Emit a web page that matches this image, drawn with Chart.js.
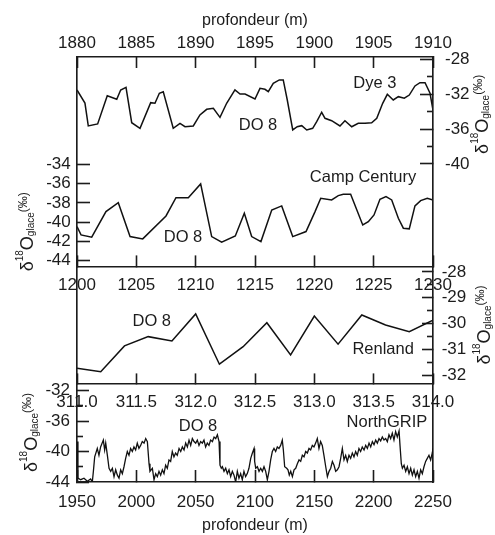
<!DOCTYPE html>
<html>
<head>
<meta charset="utf-8">
<script src="https://cdn.jsdelivr.net/npm/chart.js@4.4.1/dist/chart.umd.min.js"></script>
<style>
html, body { margin: 0; padding: 0; background: #ffffff; }
#wrap { position: relative; width: 495px; height: 535px; }
#wrap canvas { position: absolute; left: 0; top: 0; }
</style>
</head>
<body>
<div id="wrap">
  <canvas id="cDye3" width="495" height="535"></canvas>
  <canvas id="cCamp" width="495" height="535"></canvas>
  <canvas id="cRenland" width="495" height="535"></canvas>
  <canvas id="cNgrip" width="495" height="535"></canvas>
</div>
<script>
// ---------------- DATA ----------------
const dye3Depth = [1880.0,1880.67,1880.95,1881.74,1882.55,1883.35,1883.68,1884.13,1884.61,1885.31,1886.21,1886.57,1886.94,1887.27,1888.11,1888.68,1889.1,1889.8,1890.36,1890.93,1891.49,1892.05,1892.61,1893.31,1893.74,1894.16,1895.0,1895.42,1895.84,1896.12,1896.54,1897.05,1897.38,1897.72,1898.18,1898.56,1898.94,1899.36,1899.86,1900.2,1900.62,1900.9,1901.46,1902.16,1902.58,1903.15,1903.7,1904.27,1904.83,1905.26,1905.76,1906.15,1906.65,1907.08,1907.58,1908.0,1908.48,1908.9,1909.33,1909.75,1910.0];
const dye3Values = [-31.5,-33.0,-35.63,-35.4,-32.16,-32.57,-31.5,-31.19,-35.26,-35.9,-32.96,-33.03,-31.88,-31.7,-35.9,-35.33,-35.72,-35.63,-34.37,-33.72,-33.6,-34.64,-33.03,-31.5,-31.96,-31.96,-32.54,-31.31,-31.42,-31.7,-30.73,-30.35,-30.35,-32.65,-36.09,-35.72,-35.6,-36.09,-35.9,-35.14,-34.06,-34.75,-35.03,-35.63,-35.03,-35.72,-35.33,-35.33,-35.26,-34.75,-33.03,-32.0,-32.65,-32.27,-32.45,-32.08,-31.04,-30.66,-30.66,-31.88,-33.8];
const campDepth = [1200.0,1200.34,1201.24,1202.44,1203.48,1204.47,1205.54,1207.5,1208.34,1209.38,1210.42,1211.35,1212.19,1213.34,1214.1,1214.72,1215.5,1216.41,1217.25,1218.18,1219.3,1220.06,1220.54,1221.46,1222.02,1222.44,1223.06,1224.08,1224.55,1225.03,1225.53,1226.04,1226.52,1227.08,1227.5,1228.0,1228.48,1228.96,1229.52,1230.0];
const campValues = [-40.47,-41.33,-41.56,-38.91,-37.98,-41.5,-41.74,-39.36,-37.46,-37.46,-36.04,-41.5,-42.08,-41.43,-39.08,-41.5,-42.02,-38.74,-38.32,-41.5,-40.98,-38.91,-37.52,-37.7,-37.25,-37.11,-37.11,-40.29,-39.95,-39.25,-37.63,-37.36,-37.7,-39.6,-40.63,-40.7,-38.32,-37.77,-37.52,-37.7];
const renlandDepth = [311.0,311.2,311.4,311.6,311.8,312.0,312.2,312.4,312.6,312.8,313.0,313.2,313.4,313.6,313.8,314.0];
const renlandValues = [-31.74,-31.87,-30.87,-30.51,-30.68,-29.63,-31.58,-30.9,-29.97,-31.22,-29.71,-30.8,-29.67,-30.06,-30.32,-29.87];
const ngripDepth = [1950.3,1950.8,1953.1,1955.9,1958.7,1961.5,1962.9,1963.8,1964.9,1967.1,1968.5,1969.9,1972.2,1973.3,1974.2,1975.6,1977.0,1978.4,1979.8,1981.2,1982.6,1984.0,1985.4,1986.8,1988.2,1989.6,1991.0,1992.4,1993.8,1995.2,1996.6,1998.0,1999.4,2000.8,2002.2,2003.6,2005.0,2006.5,2007.9,2009.3,2010.7,2011.5,2013.5,2014.9,2016.3,2017.7,2019.1,2020.5,2021.9,2023.3,2024.7,2026.1,2027.5,2028.9,2030.3,2031.7,2033.1,2034.5,2036.0,2037.4,2038.8,2040.2,2041.6,2043.0,2044.4,2045.8,2047.2,2048.6,2050.0,2051.4,2052.8,2054.2,2055.6,2057.0,2058.4,2059.8,2061.2,2062.6,2064.1,2065.5,2066.9,2068.3,2069.7,2070.5,2071.6,2072.5,2073.9,2075.3,2076.7,2078.1,2079.5,2080.9,2082.3,2083.7,2085.1,2086.5,2087.9,2089.3,2090.7,2092.1,2093.5,2094.9,2096.4,2097.8,2099.2,2099.7,2100.6,2102.0,2103.4,2104.8,2106.2,2107.6,2109.0,2110.4,2111.8,2113.2,2114.6,2116.0,2117.4,2118.8,2120.2,2121.6,2123.0,2123.9,2125.0,2126.7,2127.8,2128.9,2130.1,2131.5,2132.9,2134.3,2135.7,2137.1,2138.5,2139.9,2141.3,2142.7,2144.1,2145.5,2146.9,2148.3,2149.7,2151.1,2152.5,2153.9,2155.3,2156.7,2158.1,2159.6,2161.0,2162.4,2163.8,2165.2,2166.6,2168.0,2169.4,2170.8,2172.2,2173.6,2175.0,2176.4,2177.8,2179.2,2180.6,2182.0,2183.4,2184.8,2186.2,2187.6,2189.0,2190.4,2191.9,2193.3,2194.7,2196.1,2197.5,2198.9,2200.3,2201.7,2203.1,2204.5,2205.9,2207.3,2208.7,2210.1,2211.5,2212.9,2214.3,2215.7,2217.1,2218.5,2219.9,2221.4,2222.2,2223.3,2224.2,2225.6,2227.0,2228.4,2229.8,2231.2,2232.6,2234.0,2235.4,2236.8,2238.2,2239.6,2241.0,2242.4,2243.8,2245.2,2246.6,2248.0,2249.4,2250.0];
const ngripValues = [-38.7,-43.5,-43.7,-43.5,-43.9,-43.6,-44.0,-42.6,-40.7,-39.6,-40.5,-39.4,-38.5,-39.8,-38.9,-40.5,-42.2,-42.6,-42.2,-43.3,-42.4,-43.1,-43.5,-42.4,-42.9,-42.0,-40.9,-40.0,-40.5,-39.6,-40.0,-39.4,-39.8,-38.9,-39.6,-39.2,-38.7,-38.9,-38.3,-38.7,-41.6,-42.6,-42.2,-43.7,-42.9,-43.3,-42.6,-43.1,-42.4,-42.9,-41.8,-42.2,-41.1,-41.3,-40.0,-40.7,-40.2,-40.5,-39.6,-40.0,-39.4,-39.8,-38.9,-39.4,-38.5,-39.2,-38.3,-38.7,-38.9,-38.5,-39.2,-38.7,-38.9,-38.5,-39.4,-38.9,-39.2,-38.5,-38.7,-38.1,-38.3,-37.8,-38.7,-41.8,-42.2,-42.0,-42.6,-42.2,-42.9,-42.4,-43.3,-42.6,-43.1,-44.0,-42.6,-43.5,-42.9,-43.7,-42.6,-43.3,-42.9,-42.2,-40.9,-40.2,-39.6,-41.3,-42.2,-42.0,-42.6,-42.2,-42.6,-42.0,-42.6,-43.7,-42.6,-41.1,-40.0,-39.6,-40.0,-39.4,-39.6,-39.2,-38.5,-39.8,-42.0,-42.2,-42.4,-43.1,-42.6,-43.3,-42.4,-42.2,-41.6,-41.1,-41.3,-40.5,-40.7,-40.0,-40.2,-39.6,-39.8,-39.2,-39.4,-38.9,-38.3,-39.6,-38.7,-39.2,-40.5,-42.0,-43.3,-42.6,-42.2,-41.3,-41.8,-42.6,-42.4,-42.0,-40.9,-39.6,-41.1,-40.5,-41.3,-40.5,-40.9,-40.2,-40.7,-40.0,-40.5,-39.6,-40.0,-39.4,-39.8,-39.2,-39.6,-38.9,-39.4,-38.7,-39.1,-38.5,-38.9,-38.3,-38.6,-38.1,-38.5,-38.3,-38.7,-37.8,-38.3,-37.6,-38.5,-37.4,-38.1,-37.3,-39.2,-41.6,-42.2,-41.8,-42.6,-42.0,-42.9,-42.2,-43.1,-42.4,-43.3,-42.6,-43.5,-42.4,-42.9,-42.0,-41.3,-40.9,-40.5,-41.1,-40.2,-39.6];

// Tick values
const dye3DepthTicks = [1880,1885,1890,1895,1900,1905,1910];
const dye3MajorTicks = [-28,-32,-36,-40];
const dye3MinorTicks = [-30,-34,-38];
const campDepthTicks = [1200,1205,1210,1215,1220,1225,1230];
const campTicks = [-34,-36,-38,-40,-42,-44];
const renlandDepthTicks = [311.0,311.5,312.0,312.5,313.0,313.5,314.0];
const renlandMajorTicks = [-28,-29,-30,-31,-32];
const renlandMinorTicks = [-28.5,-29.5,-30.5,-31.5];
const ngripDepthTicks = [1950,2000,2050,2100,2150,2200,2250];
const ngripMajorTicks = [-32,-36,-40,-44];
const ngripMinorTicks = [-34,-38,-42];

// Text annotations (data coordinates of each panel)
const dye3Notes = [{ text: 'Dye 3', x: 1905.1, y: -30.7 }, { text: 'DO 8', x: 1895.25, y: -35.52 }];
const campNotes = [{ text: 'Camp Century', x: 1224.1, y: -35.32 }, { text: 'DO 8', x: 1208.93, y: -41.54 }];
const renlandNotes = [{ text: 'DO 8', x: 311.63, y: -29.94 }, { text: 'Renland', x: 313.58, y: -30.99 }];
const ngripNotes = [{ text: 'DO 8', x: 2051.97, y: -36.66 }, { text: 'NorthGRIP', x: 2211.2, y: -36.13 }];

// ---------------- STYLE / HELPERS ----------------
const FONT_FAMILY = "'Liberation Sans', Arial, Helvetica, sans-serif";
const INK = '#1c1c1c';
const LINE = '#111111';

const pts = (xs, ys) => xs.map((x, i) => ({ x: x, y: ys[i] }));
const tickList = (values) => (s) => { s.ticks = values.map(v => ({ value: v })); };

function xAxis(o) {
  const axis = {
    type: 'linear', min: o.min, max: o.max, position: o.position,
    afterBuildTicks: tickList(o.ticks),
    border: { display: true, color: INK, width: 1.4 },
    grid: { display: true, drawOnChartArea: false, drawTicks: true, tickLength: o.tickLength, tickColor: INK, tickWidth: 1.6 },
    ticks: { font: { family: FONT_FAMILY, size: 17 }, color: INK, padding: o.padding, autoSkip: false,
             maxRotation: 0, minRotation: 0, callback: (v) => o.format(v) },
    title: o.title ? { display: true, text: o.title, color: INK, font: { family: FONT_FAMILY, size: 16 }, padding: o.titlePadding } : { display: false }
  };
  if (o.size != null) axis.afterFit = (s) => { s.height = o.size; };
  return axis;
}
function yAxis(o) {
  return {
    type: 'linear', min: o.min, max: o.max, position: o.position, weight: 1,
    afterBuildTicks: tickList(o.ticks),
    afterFit: (s) => { s.width = o.size; },
    border: { display: true, color: INK, width: 1.4 },
    grid: { display: true, drawOnChartArea: false, drawTicks: true, tickLength: o.tickLength, tickColor: INK, tickWidth: 1.6 },
    ticks: { font: { family: FONT_FAMILY, size: 17 }, color: INK, padding: o.padding, autoSkip: false, callback: (v) => String(v) }
  };
}
function yMinorAxis(o) {
  return {
    type: 'linear', min: o.min, max: o.max, position: o.position, weight: 0,
    afterBuildTicks: tickList(o.ticks),
    afterFit: (s) => { s.width = 0; },
    border: { display: false },
    grid: { display: true, drawOnChartArea: false, drawTicks: true, tickLength: o.tickLength, tickColor: INK, tickWidth: 1.6 },
    ticks: { display: false }
  };
}

function drawIsoTitle(ctx, cx, cy) {
  const parts = [
    { t: '\u03B4', size: 18, dy: 0 },
    { t: '18', size: 10, dy: -10 },
    { t: 'O', size: 18, dy: 0 },
    { t: 'glace', size: 10, dy: 1 },
    { t: '(\u2030)', size: 12, dy: -6 }
  ];
  ctx.save();
  ctx.translate(cx, cy);
  ctx.rotate(-Math.PI / 2);
  ctx.fillStyle = INK;
  ctx.textAlign = 'left';
  ctx.textBaseline = 'alphabetic';
  let total = 0;
  parts.forEach(p => { ctx.font = p.size + 'px ' + FONT_FAMILY; p.w = ctx.measureText(p.t).width; total += p.w; });
  let x = -total / 2;
  const base = 6.5;
  parts.forEach(p => { ctx.font = p.size + 'px ' + FONT_FAMILY; ctx.fillText(p.t, x, base + p.dy); x += p.w; });
  ctx.restore();
}

const notesPlugin = {
  id: 'notes',
  afterDraw(chart, args, opts) {
    const ctx = chart.ctx;
    const xs = chart.scales.x, ys = chart.scales.y;
    ctx.save();
    ctx.fillStyle = INK;
    ctx.font = '16.5px ' + FONT_FAMILY;
    ctx.textAlign = 'center';
    ctx.textBaseline = 'middle';
    (opts.items || []).forEach(n => ctx.fillText(n.text, xs.getPixelForValue(n.x), ys.getPixelForValue(n.y)));
    ctx.restore();
    if (opts.axisTitle) {
      const a = opts.axisTitle;
      const cx = a.side === 'right' ? chart.chartArea.right + a.offset : chart.chartArea.left - a.offset;
      drawIsoTitle(ctx, cx, ys.getPixelForValue(a.center));
    }
  }
};

function makeChart(id, datasetPoints, lineWidth, padding, scales, notes, axisTitle) {
  return new Chart(document.getElementById(id), {
    type: 'line',
    data: { datasets: [{ data: datasetPoints, borderColor: LINE, borderWidth: lineWidth, pointRadius: 0, tension: 0, fill: false }] },
    options: {
      responsive: false, animation: false, events: [],
      layout: { padding: padding },
      plugins: { legend: { display: false }, tooltip: { enabled: false }, notes: { items: notes, axisTitle: axisTitle } },
      scales: scales
    },
    plugins: [notesPlugin]
  });
}

const intFmt = (v) => String(Math.round(v));

// ---------------- PANELS ----------------
makeChart('cDye3', pts(dye3Depth, dye3Values), 1.5,
  { left: 77, right: 0, top: 0, bottom: 53 },
  {
    x: xAxis({ min: 1880, max: 1910, position: 'top', ticks: dye3DepthTicks, size: 57, tickLength: -11, padding: 14.8,
               format: intFmt, title: 'profondeur (m)', titlePadding: { top: 11.4, bottom: 0 } }),
    y: yAxis({ min: -76.52, max: -27.713, position: 'right', ticks: dye3MajorTicks, size: 62, tickLength: -13, padding: 25 }),
    yMinor: yMinorAxis({ min: -76.52, max: -27.713, position: 'right', ticks: dye3MinorTicks, tickLength: -6 })
  },
  dye3Notes, { side: 'right', offset: 48, center: -34.3 });

makeChart('cCamp', pts(campDepth, campValues), 1.5,
  { left: 0, right: 62, top: 57, bottom: 53 },
  {
    x: xAxis({ min: 1200, max: 1230, position: { y: -44.65 }, ticks: campDepthTicks, tickLength: -12, padding: 19.8, format: intFmt }),
    y: yAxis({ min: -66.96, max: -22.87, position: 'left', ticks: campTicks, size: 77, tickLength: -13, padding: 19.3 })
  },
  campNotes, { side: 'left', offset: 51, center: -41.0 });

makeChart('cRenland', pts(renlandDepth, renlandValues), 1.5,
  { left: 77, right: 0, top: 57, bottom: 53 },
  {
    x: xAxis({ min: 311, max: 314, position: { y: -32.35 }, ticks: renlandDepthTicks, tickLength: -11, padding: 19.3,
               format: (v) => Number(v).toFixed(1) }),
    y: yAxis({ min: -36.15, max: -19.66, position: 'right', ticks: renlandMajorTicks, size: 62, tickLength: -11, padding: 19.7 }),
    yMinor: yMinorAxis({ min: -36.15, max: -19.66, position: 'right', ticks: renlandMinorTicks, tickLength: -6 })
  },
  renlandNotes, { side: 'right', offset: 50, center: -30.06 });

makeChart('cNgrip', pts(ngripDepth, ngripValues), 1.3,
  { left: 0, right: 62, top: 57, bottom: 0 },
  {
    x: xAxis({ min: 1950, max: 2250, position: 'bottom', ticks: ngripDepthTicks, size: 53, tickLength: -12, padding: 21.8,
               format: intFmt, title: 'profondeur (m)', titlePadding: { top: 0, bottom: 0 } }),
    y: yAxis({ min: -44, max: 11.74, position: 'left', ticks: ngripMajorTicks, size: 77, tickLength: -12, padding: 19 }),
    yMinor: yMinorAxis({ min: -44, max: 11.74, position: 'left', ticks: ngripMinorTicks, tickLength: -6 })
  },
  ngripNotes, { side: 'left', offset: 47, center: -37.5 });
</script>
</body>
</html>
